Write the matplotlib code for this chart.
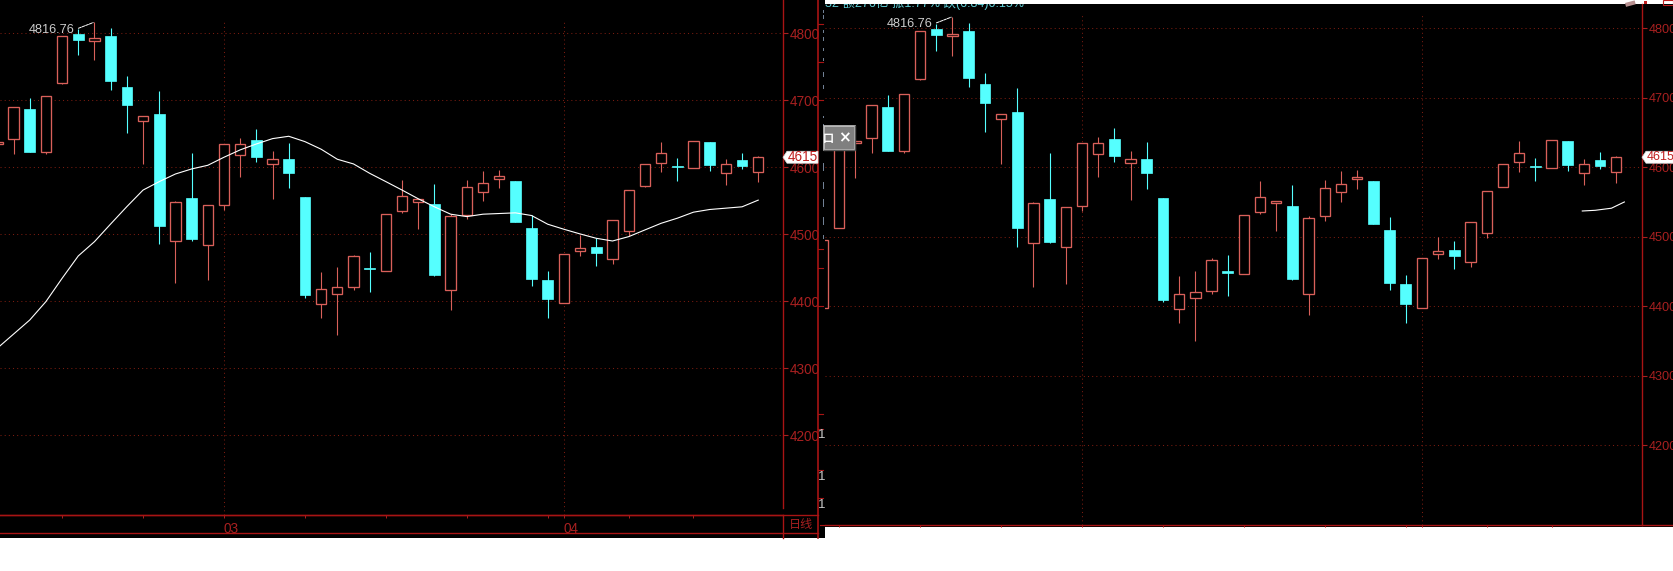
import numpy as np
import matplotlib
matplotlib.use('Agg')
import matplotlib.pyplot as plt
from matplotlib.patches import Rectangle, Polygon

plt.rcParams['font.family'] = ['Liberation Sans', 'Noto Sans CJK SC', 'DejaVu Sans']

W, H = 1674, 571

# daily candles
opens = [4398, 4513, 4635.5, 4641.8, 4687, 4623.4, 4726.4, 4799, 4789, 4796,
         4720, 4669.7, 4679.6, 4490.5, 4554, 4484.6, 4544.3, 4619, 4640.8, 4605.5,
         4612.4, 4555.7, 4396.5, 4411.4, 4422, 4450, 4445.8, 4535.3, 4547.8, 4544.8,
         4417.4, 4529.4, 4563.7, 4582.6, 4579.6, 4509, 4431.3, 4398, 4475.6, 4481,
         4463.7, 4505.5, 4572, 4607, 4601.5, 4599.5, 4638, 4592, 4611, 4593.5]
highs = [4495.5, 4640, 4638, 4689.6, 4703.5, 4706, 4796, 4806, 4816.76, 4808,
         4736.3, 4676, 4714, 4549.8, 4621, 4543, 4634.3, 4643.8, 4657, 4624,
         4636, 4555.7, 4444, 4451, 4468.7, 4473, 4531, 4580.6, 4552, 4574.6,
         4530, 4581, 4594.5, 4596, 4579.6, 4528.4, 4444.8, 4470, 4499.5, 4494.5,
         4521, 4565.7, 4604.5, 4638, 4613.4, 4639, 4638, 4612, 4621.4, 4616.4]
lows = [4398, 4513, 4584, 4620.4, 4623.4, 4620.4, 4725, 4767.7, 4760, 4715,
        4651, 4605, 4485.6, 4427, 4490.5, 4432, 4536.3, 4586, 4608, 4553,
        4569, 4405.5, 4375.6, 4350, 4417.4, 4414, 4445.8, 4532, 4508.5, 4438.3,
        4387.6, 4522.4, 4550, 4569, 4518.4, 4423.4, 4375.6, 4397, 4468, 4453,
        4456, 4497.5, 4571, 4593, 4579.6, 4599.5, 4595, 4574, 4598, 4578]
closes = [4495.5, 4640, 4638, 4689.6, 4623.4, 4706, 4796, 4790, 4792.5, 4729,
          4693, 4676, 4512.4, 4548, 4493, 4543, 4634.3, 4634.3, 4616, 4612,
          4591.5, 4409.5, 4418, 4421, 4467, 4448, 4531, 4556.7, 4552, 4439.3,
          4527, 4570, 4576, 4586.6, 4518.4, 4433.3, 4403.5, 4470, 4479, 4472,
          4521, 4565.7, 4604.5, 4621, 4600.5, 4639, 4603.5, 4604.5, 4602, 4615]

# moving average, left chart, starts at candle 2
ma_vals = [4330, 4351, 4372, 4399.5, 4434.3, 4467.7, 4489, 4515.4, 4541.3, 4566,
           4578.6, 4590, 4597.5, 4603, 4615, 4626, 4634.8, 4642.8, 4646.3, 4638.3,
           4627, 4612, 4605, 4591, 4578.6, 4566, 4553, 4541, 4530, 4526.4,
           4530, 4531, 4532, 4528, 4515, 4507.5, 4500.5, 4494, 4490, 4496.5,
           4506.5, 4516.4, 4524, 4533, 4537, 4539, 4541, 4551]
# the short piece in the right chart
ma_right_x = [46.9, 47.7, 48.7, 49.5]
ma_right_y = [4537, 4538, 4541, 4550]

price_ticks = [4200, 4300, 4400, 4500, 4600, 4700, 4800]
major_days = [16, 37]
major_labels = ['03', '04']
minor_days = [1, 6, 11, 21, 26, 31, 36, 41, 45]
last_price = 4615
peak_label = '4816.76'
top_text = '32 额276亿 振1.77% 跌(6.84)0.15%'

RED = '#d9605a'
CYAN = '#55ffff'
LINE = '#a81414'
LABEL = '#a82020'
GRID = '#7a1c10'

fig = plt.figure(figsize=(W / 100, H / 100), dpi=100, facecolor='white')


def px_axes(x0, y0, x1, y1, **kw):
    return fig.add_axes([x0 / W, 1 - y1 / H, (x1 - x0) / W, (y1 - y0) / H], **kw)


def draw_chart(ax, xlim, ylim, label_size):
    x = np.arange(len(opens))
    o = np.array(opens)
    c = np.array(closes)
    up = c >= o
    ax.set_facecolor('black')
    ax.set_xlim(*xlim)
    ax.set_ylim(*ylim)
    ax.vlines(x[up], np.array(lows)[up], np.array(highs)[up], color=RED, lw=0.8, zorder=3)
    ax.vlines(x[~up], np.array(lows)[~up], np.array(highs)[~up], color=CYAN, lw=0.8, zorder=3)
    ax.bar(x[up], (c - o)[up], 0.64, bottom=o[up], facecolor='black', edgecolor=RED, lw=0.95, zorder=4)
    ax.bar(x[~up], (o - c)[~up], 0.66, bottom=c[~up], facecolor=CYAN, edgecolor=CYAN, lw=0.5, zorder=4)

    ax.yaxis.tick_right()
    ax.set_yticks(price_ticks)
    ax.tick_params(axis='y', colors=LABEL, length=3.6, width=0.8, pad=1.5, labelsize=label_size)
    ax.grid(axis='y', color=GRID, lw=0.75, linestyle=(0, (1, 3)))
    ax.vlines(major_days, ylim[0], 4820, color=GRID, lw=0.75, linestyle=(0, (1, 3)), zorder=1)
    ax.set_axisbelow(True)
    for s in ['top', 'left']:
        ax.spines[s].set_visible(False)
    for s in ['right', 'bottom']:
        ax.spines[s].set_color(LINE)
        ax.spines[s].set_linewidth(1.0)

    ax.annotate(peak_label, xy=(8, 4816.76), xytext=(-14.5, -5.6), textcoords='offset points',
                ha='right', va='center', color='#cccccc', fontsize=9.2,
                arrowprops=dict(arrowstyle='-', color='white', lw=0.7, linestyle=(0, (3, 1)),
                                relpos=(1, 0.5), shrinkA=1, shrinkB=1))


# black backgrounds
bg_left = px_axes(0, 0, 825, 538, facecolor='black', zorder=0)
bg_left.axis('off')
bg_left.add_patch(Rectangle((0, 0), 1, 1, transform=bg_left.transAxes, color='black'))
bg_right = px_axes(825, 4, 1674, 527, facecolor='black', zorder=1)
bg_right.axis('off')
bg_right.add_patch(Rectangle((0, 0), 1, 1, transform=bg_right.transAxes, color='black'))

# left chart
ax1 = px_axes(0, 0, 783, 515, zorder=2)
draw_chart(ax1, (2.164, 50.53), (4081.0, 4849.7), 9.8)
ax1.plot(np.arange(2, 50), ma_vals, color='white', lw=0.8, zorder=5)
ax1.spines['right'].set_bounds(4092, 4849.7)
ax1.set_xticks(major_days)
ax1.set_xticklabels(major_labels)
for t in ax1.get_xticklabels():
    t.set_ha('left')
ax1.set_xticks([d for d in minor_days if d > 2], minor=True)
ax1.tick_params(axis='x', which='both', colors=LABEL, length=1.8, width=0.7, pad=3.5, labelsize=9.8)

# right chart
ax2 = px_axes(825, 4, 1641.7, 525.3, zorder=3)
draw_chart(ax2, (0.125, 50.57), (4084.5, 4835.0), 9.2)
ax2.plot(ma_right_x, ma_right_y, color='white', lw=0.8, zorder=5)
ax2.set_xticks(major_days)
ax2.set_xticklabels([])
ax2.set_xticks(minor_days, minor=True)
ax2.tick_params(axis='x', which='both', colors=LINE, length=1.5, width=0.7)
# only the lower part of this line shows under the white strip
ax2.text(0.0, 1.002, top_text, transform=ax2.transAxes, color='#5fd0d8', fontsize=9,
         ha='left', va='center', clip_on=True, zorder=6)

# pixel overlay for the window furniture
ov = fig.add_axes([0, 0, 1, 1], zorder=4)
ov.set_xlim(0, W)
ov.set_ylim(H, 0)
ov.axis('off')
ov.patch.set_alpha(0)

ov.plot([783, 783], [515, 538], color=LINE, lw=1.0)
ov.plot([818, 818], [0, 538], color=LINE, lw=1.2)
ov.plot([0, 818], [515, 515], color=LINE, lw=1.0)
ov.plot([0, 818], [533, 533], color=LINE, lw=1.0)
ov.plot([1641.7, 1674], [525.3, 525.3], color=LINE, lw=1.0)
ov.plot([820, 825], [525.3, 525.3], color=LINE, lw=0.8)
ov.text(801, 524.5, '日线', color=LABEL, fontsize=8.7, ha='center', va='center',
        family=['Noto Sans CJK SC', 'DejaVu Sans'])

for y in [24, 62, 100, 249, 268, 306, 414, 429, 470, 498]:
    ov.plot([818, 823], [y, y], color=LINE, lw=0.8)
for y in [435, 477, 505]:
    ov.text(822, y, '1', color='#c8c8c8', fontsize=9.5, ha='center', va='center')
# cut off letters at the edge of the right window
for y0, y1 in [(10, 12), (15, 18), (30, 32), (37, 40), (48, 50), (58, 60), (72, 76), (85, 88),
               (116, 117), (124, 125), (163, 170), (182, 188), (199, 206), (217, 224), (235, 238)]:
    ov.plot([823, 823], [y0, y1], color='#76869a', lw=0.7)

# small toolbar that sits over the right chart
box = Rectangle((824, 126), 31, 24, facecolor='#7f7f7f', edgecolor='#c4c4c4', lw=1.2, zorder=6)
ov.add_patch(box)
ov.plot([824, 855, 855], [150, 150, 126], color='#555555', lw=1.0, zorder=6)
t = ov.text(823, 138.5, '口', color='white', fontsize=8, ha='left', va='center', zorder=7,
            family=['Noto Sans CJK SC', 'DejaVu Sans'], fontweight='bold')
t.set_clip_path(box)
ov.text(844, 138, '×', color='white', fontsize=11, ha='center', va='center', zorder=7,
        family='DejaVu Sans', fontweight='bold')

# last price tags
ytag = H - ax1.transData.transform((0, last_price))[1]
for x0, x1, size in [(783, 818, 9.8), (1642, 1674, 9.0)]:
    ov.add_patch(Polygon([(x0, ytag), (x0 + 4, ytag - 6), (x1, ytag - 6), (x1, ytag + 6), (x0 + 4, ytag + 6)],
                         closed=True, facecolor='white', edgecolor='#d8d8d8', lw=0.5, zorder=6))
    ov.text(x0 + 4.5, ytag, str(last_price), color='#c02020', fontsize=size, ha='left', va='center', zorder=7)

# bits of the window buttons in the top right corner
ov.add_patch(Rectangle((1625, 3), 10, 4, angle=-15, facecolor='#b89090', edgecolor='none'))
ov.add_patch(Rectangle((1644, 1), 3, 3, facecolor='#c02020', edgecolor='none'))
ov.add_patch(Rectangle((1663, 0), 10, 4.5, facecolor='none', edgecolor='#c02020', lw=0.8))
ov.set_xlim(0, W)
ov.set_ylim(H, 0)

fig.savefig('out.png', dpi=100)
